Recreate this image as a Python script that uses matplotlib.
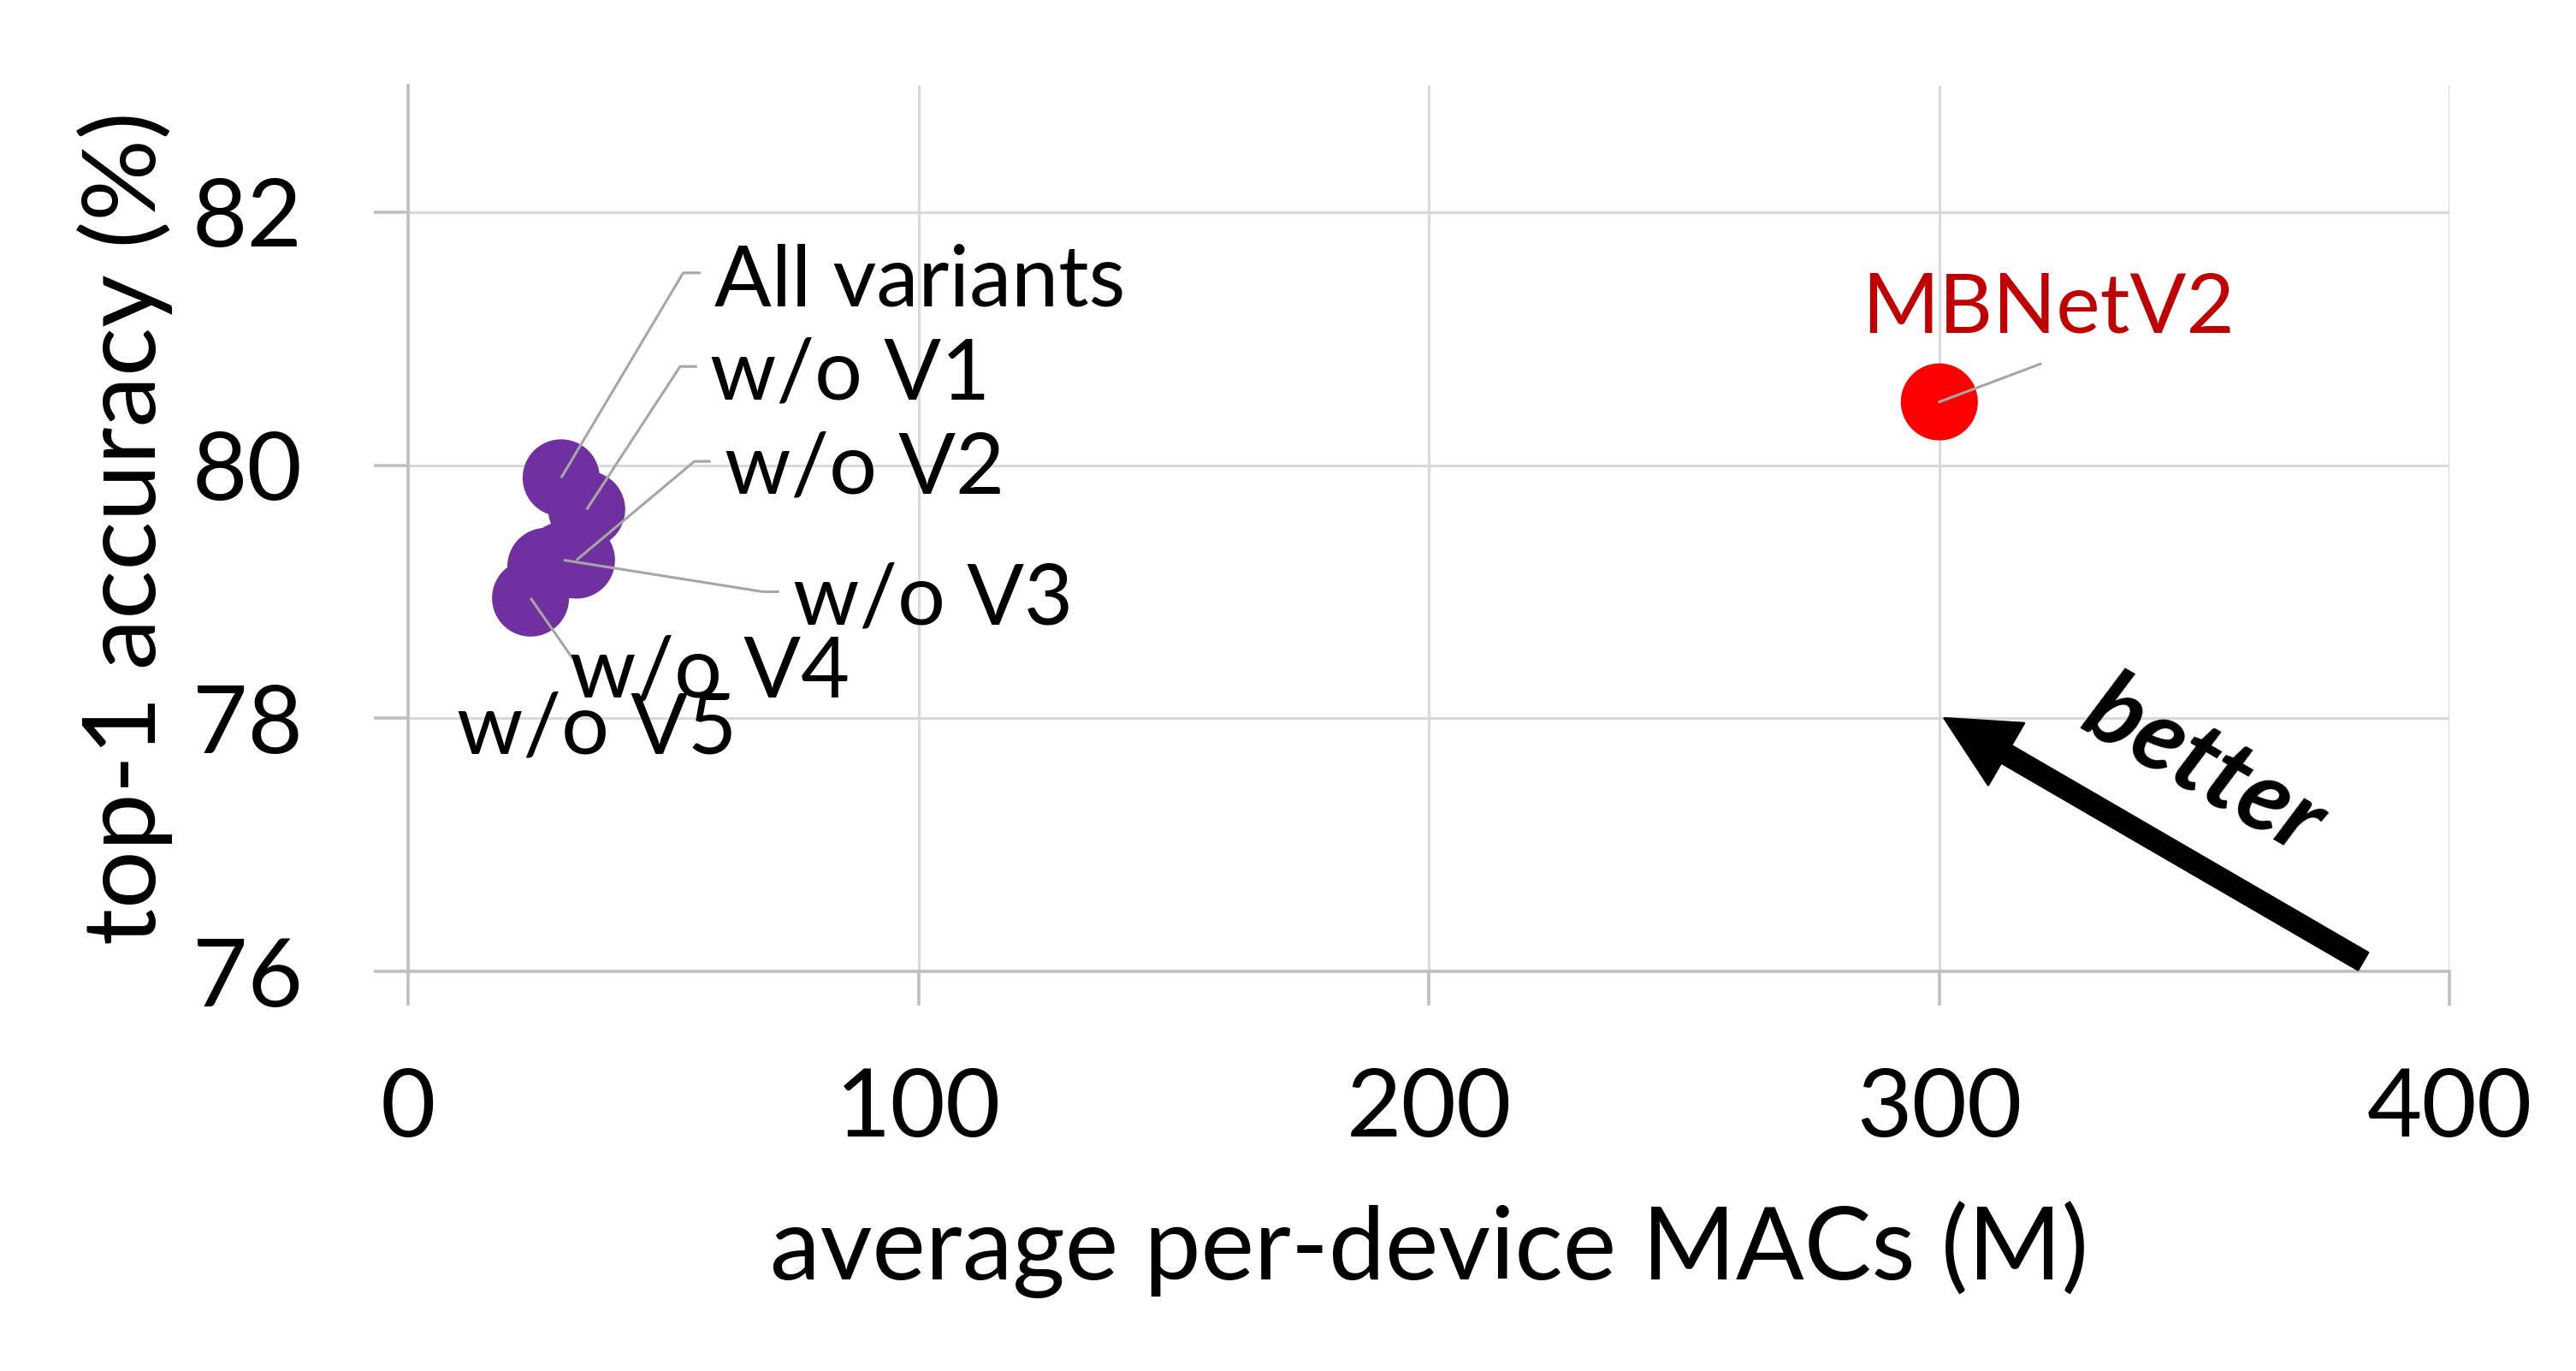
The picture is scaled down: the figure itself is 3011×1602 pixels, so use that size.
import matplotlib
matplotlib.use("Agg")
import matplotlib.pyplot as plt

# ---- data ----
variant_names = ["All variants", "w/o V1", "w/o V2", "w/o V3", "w/o V4", "w/o V5"]
variant_macs = [30, 35, 33, 30.5, 24, 27]
variant_acc = [79.9, 79.65, 79.25, 79.25, 78.95, 79.2]
baseline_name = "MBNetV2"
baseline_macs = [300]
baseline_acc = [80.5]
x_ticks = [0, 100, 200, 300, 400]
y_ticks = [76, 78, 80, 82]

# ---- label layout (text left x, text baseline y, elbow x, elbow y, horizontal end x) ----
lab_tx = [60.0, 59.1, 62.1, 75.5, 31.7, 9.5]
lab_ty = [81.26, 80.52, 79.78, 78.74, 78.17, 77.72]
lab_ex = [53.9, 53.3, 56.1, 69.5, 32.3, None]
lab_ey = [81.52, 80.78, 80.03, 79.0, 78.47, None]
lab_hx = [57.3, 56.6, 59.3, 72.7, 32.3, None]

plt.rcParams['font.family'] = ['Lato', 'DejaVu Sans']

fig = plt.figure(figsize=(15.055, 8.01), dpi=200)
ax = fig.add_axes([0.1584, 0.2915, 0.951 - 0.1584, 0.9376 - 0.2915])

ax.set_xlim(0, 400)
ax.set_ylim(76, 83)
ax.set_xticks(x_ticks)
ax.set_yticks(y_ticks)
ax.grid(True, color='#D9D9D9', linewidth=1.1, zorder=0)
ax.set_axisbelow(True)
for s in ['top', 'right']:
    ax.spines[s].set_visible(False)
for s in ['left', 'bottom']:
    ax.spines[s].set_color('#BFBFBF')
    ax.spines[s].set_linewidth(1.3)
ax.tick_params(axis='both', direction='out', length=14.4, width=1.3,
               color='#BFBFBF', labelsize=40, labelcolor='black')
ax.tick_params(axis='x', pad=26)
ax.tick_params(axis='y', pad=30)

ax.scatter(variant_macs, variant_acc, s=1050, color='#7030A0', edgecolors='none', zorder=3)
ax.scatter(baseline_macs, baseline_acc, s=1050, color='#FF0000', edgecolors='none', zorder=3)

lead_col = '#A6A6A6'
for i, name in enumerate(variant_names):
    if lab_ex[i] is not None:
        ax.plot([variant_macs[i], lab_ex[i], lab_hx[i]],
                [variant_acc[i], lab_ey[i], lab_ey[i]],
                color=lead_col, linewidth=1.1, zorder=4, solid_capstyle='butt')
    ax.text(lab_tx[i], lab_ty[i], name, fontsize=35.5, color='black',
            ha='left', va='baseline', zorder=5)

# baseline label
ax.plot([baseline_macs[0], 319.8], [baseline_acc[0], 80.80], color=lead_col,
        linewidth=1.1, zorder=4)
ax.text(284.8, 81.05, baseline_name, fontsize=35, color='#C00000',
        ha='left', va='baseline', zorder=5)

# better arrow
ax.annotate("", xy=(301, 78.0), xytext=(383, 76.08),
            arrowprops=dict(arrowstyle="simple,head_length=1.0,head_width=1.0,tail_width=0.28",
                            color='black', mutation_scale=30, shrinkA=0, shrinkB=0),
            zorder=5)
ax.text(351.8, 77.61, "better", fontsize=42, fontweight='bold', fontstyle='italic',
        rotation=-30, rotation_mode='anchor', ha='center', va='center', zorder=5)

ax.set_xlabel("average per-device MACs (M)", fontsize=42.5, labelpad=20)
ax.set_ylabel("top-1 accuracy (%)", fontsize=43, labelpad=8)

fig.savefig("out.png", dpi=200)
